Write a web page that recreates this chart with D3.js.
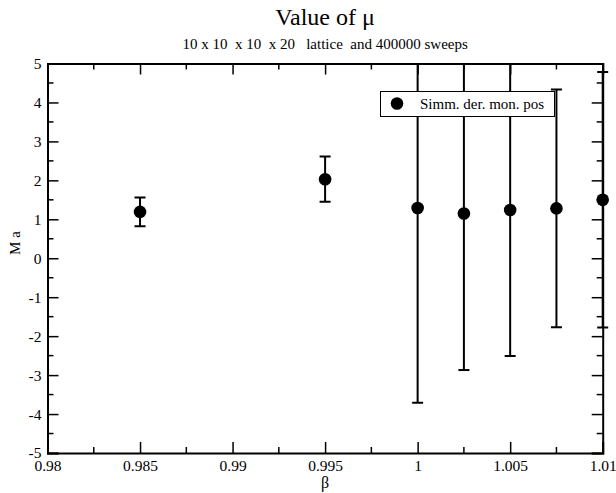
<!DOCTYPE html>
<html>
<head>
<meta charset="utf-8">
<script src="https://cdn.jsdelivr.net/npm/d3@7"></script>
<style>
  body { margin: 0; background: #fff; }
  svg { display: block; font-family: "Liberation Serif", "Times New Roman", serif; }
</style>
</head>
<body>
<svg id="chart"></svg>
<script>
// data
const betas = [0.985, 0.995, 1.0, 1.0025, 1.005, 1.0075, 1.01];
const values = [1.19, 2.03, 1.29, 1.15, 1.24, 1.28, 1.50];
const errors = [0.37, 0.58, 5.0, 4.02, 3.75, 3.05, 3.28];
const xTicks = [0.98, 0.985, 0.99, 0.995, 1, 1.005, 1.01];
const xTickLabels = ["0.98", "0.985", "0.99", "0.995", "1", "1.005", "1.01"];
const yTicks = [-5, -4, -3, -2, -1, 0, 1, 2, 3, 4, 5];
const seriesName = "Simm. der. mon. pos";

const width = 616, height = 493;
const margin = {left: 47.5, right: 13.3, top: 63.5, bottom: 40};

function main() {
    const svg = d3.select('#chart')
        .attr('width', width)
        .attr('height', height);

    const x = d3.scaleLinear().domain([0.98, 1.01]).range([margin.left, width - margin.right]);
    const y = d3.scaleLinear().domain([-5, 5]).range([height - margin.bottom, margin.top]);

    const pts = betas.map((b, i) => ({b: b, v: values[i], e: errors[i]}));

    // clip for error bars
    svg.append('defs').append('clipPath').attr('id', 'plotclip')
        .append('rect')
        .attr('x', margin.left - 10).attr('y', margin.top)
        .attr('width', width - margin.left - margin.right + 20)
        .attr('height', height - margin.top - margin.bottom);

    const xMinor = d3.range(0.9825, 1.01, 0.005);
    const yMinor = d3.range(-4.5, 5, 1);

    // axes (ticks inside)
    const bottom = svg.append('g').attr('transform', `translate(0,${y(-5)})`)
        .call(d3.axisBottom(x).tickValues(xTicks).tickSize(-11).tickPadding(13)
            .tickFormat((d, i) => xTickLabels[i]));
    const top = svg.append('g').attr('transform', `translate(0,${y(5)})`)
        .call(d3.axisTop(x).tickValues(xTicks).tickSize(-11).tickFormat(''));
    const left = svg.append('g').attr('transform', `translate(${x(0.98)},0)`)
        .call(d3.axisLeft(y).tickValues(yTicks).tickSize(-11).tickPadding(6).tickFormat(d => String(d)));
    const right = svg.append('g').attr('transform', `translate(${x(1.01)},0)`)
        .call(d3.axisRight(y).tickValues(yTicks).tickSize(-11).tickFormat(''));

    bottom.append('g').selectAll('line').data(xMinor).join('line')
        .attr('x1', d => x(d)).attr('x2', d => x(d)).attr('y1', 0).attr('y2', -6);
    top.append('g').selectAll('line').data(xMinor).join('line')
        .attr('x1', d => x(d)).attr('x2', d => x(d)).attr('y1', 0).attr('y2', 6);
    left.append('g').selectAll('line').data(yMinor).join('line')
        .attr('y1', d => y(d)).attr('y2', d => y(d)).attr('x1', 0).attr('x2', 6);
    right.append('g').selectAll('line').data(yMinor).join('line')
        .attr('y1', d => y(d)).attr('y2', d => y(d)).attr('x1', 0).attr('x2', -6);

    [bottom, top, left, right].forEach(g => {
        g.select('.domain').attr('stroke', '#000').attr('stroke-width', 2);
        g.selectAll('line').attr('stroke', '#000').attr('stroke-width', 1.5);
        g.selectAll('text').attr('font-family', 'Liberation Serif').attr('font-size', 15.5).attr('fill', '#000');
    });
    bottom.selectAll('.tick text').attr('dy', '0.3em');

    // error bars
    const eb = svg.append('g').attr('clip-path', 'url(#plotclip)')
        .attr('stroke', '#000').attr('stroke-width', 2);
    eb.selectAll('line.v').data(pts).join('line').attr('class', 'v')
        .attr('x1', d => x(d.b)).attr('x2', d => x(d.b))
        .attr('y1', d => y(d.v + d.e)).attr('y2', d => y(d.v - d.e));
    eb.selectAll('line.cu').data(pts).join('line').attr('class', 'cu')
        .attr('x1', d => x(d.b) - 5.5).attr('x2', d => x(d.b) + 5.5)
        .attr('y1', d => y(d.v + d.e)).attr('y2', d => y(d.v + d.e));
    eb.selectAll('line.cl').data(pts).join('line').attr('class', 'cl')
        .attr('x1', d => x(d.b) - 5.5).attr('x2', d => x(d.b) + 5.5)
        .attr('y1', d => y(d.v - d.e)).attr('y2', d => y(d.v - d.e));

    // points
    svg.append('g').selectAll('circle').data(pts).join('circle')
        .attr('cx', d => x(d.b)).attr('cy', d => y(d.v)).attr('r', 6.3)
        .attr('fill', '#000');

    // legend
    const lg = svg.append('g');
    lg.append('rect').attr('x', 380.5).attr('y', 91.5).attr('width', 174).attr('height', 25)
        .attr('fill', '#fff').attr('stroke', '#000').attr('stroke-width', 1);
    lg.append('circle').attr('cx', 397).attr('cy', 103.5).attr('r', 6.3).attr('fill', '#000');
    lg.append('text').attr('x', 420).attr('y', 108.5).attr('font-size', 15).text(seriesName);

    // titles
    const cx = (x(0.98) + x(1.01)) / 2;
    svg.append('text').attr('x', cx).attr('y', 25).attr('text-anchor', 'middle')
        .attr('font-size', 24).html('Value of &#956;');
    svg.append('text').attr('x', cx).attr('y', 49).attr('text-anchor', 'middle')
        .attr('font-size', 15).style('white-space', 'pre')
        .text('10 x 10  x 10  x 20   lattice  and 400000 sweeps');

    svg.append('text').attr('x', cx).attr('y', 488).attr('text-anchor', 'middle')
        .attr('font-size', 16).text('β');
    svg.append('text').attr('transform', 'translate(20,243) rotate(-90)')
        .attr('text-anchor', 'middle').attr('font-size', 15)
        .style('white-space', 'pre').text('M a');
}
main();
</script>
</body>
</html>
